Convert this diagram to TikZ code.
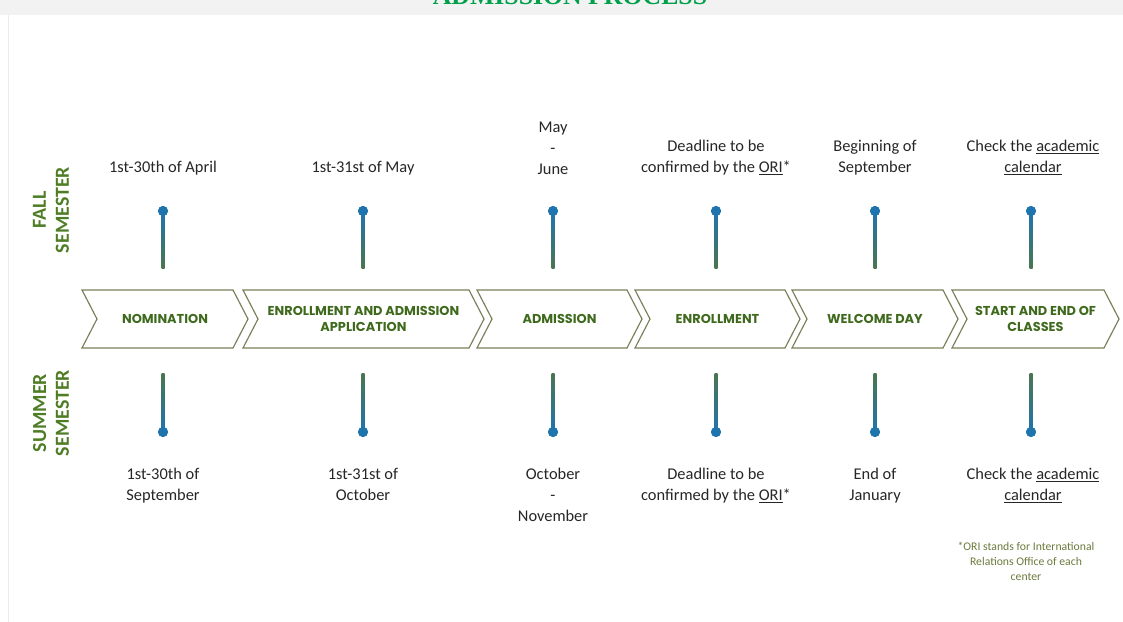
\documentclass[tikz,border=0pt]{standalone}
\usepackage{fontspec}
\setmainfont{Carlito}
\newfontfamily\stagefont{Poppins}
\newfontfamily\titlefont{Liberation Serif}
\usetikzlibrary{calc}

\definecolor{bandgray}{HTML}{F2F2F2}
\definecolor{titlegreen}{HTML}{00A04A}
\definecolor{chevdraw}{HTML}{7B7F58}
\definecolor{chevtext}{HTML}{3F6A1E}
\definecolor{semgreen}{HTML}{4E7D25}
\definecolor{pinblue}{HTML}{1F74AE}
\definecolor{pingreen}{HTML}{4B7550}
\definecolor{notegreen}{HTML}{6B7B3C}

\begin{document}
\begin{tikzpicture}[x=0.03cm,y=-0.03cm,
chev/.style = {draw=chevdraw, line width=1pt, line join=miter},
stage/.style = {font=\stagefont\bfseries\fontsize{11}{13.6}\selectfont, text=chevtext, align=center, inner sep=0pt},
date/.style = {font=\fontsize{14}{18}\selectfont, text=black!85, align=center, inner sep=0pt},
sem/.style = {font=\bfseries\fontsize{17}{19.5}\selectfont, text=semgreen, align=center, rotate=90, inner sep=0pt},
dot/.style = {circle, fill=pinblue, inner sep=0pt, minimum size=0.3cm},
note/.style = {font=\fontsize{10}{12.8}\selectfont, text=notegreen, align=center, inner sep=0pt}]
\useasboundingbox (0,0) rectangle (1123,622);
\fill[bandgray] (0,0) rectangle (1123,15);
\draw[gray!15, line width=0.6pt] (8,15) -- (8,622);
\node[font=\titlefont\bfseries\fontsize{22}{24}\selectfont, text=titlegreen, anchor=base] (title) at (570,5) {ADMISSION PROCESS};

% semester labels
\node[sem] (fall) at (51,210) {FALL\\SEMESTER};
\node[sem] (summer) at (51,413) {SUMMER\\SEMESTER};

% chevrons
\foreach \n/\l/\r/\txt in {nom/82/233/NOMINATION,
    app/243/469/{ENROLLMENT AND ADMISSION\\APPLICATION},
    adm/477/627/ADMISSION,
    enr/635/785/ENROLLMENT,
    wel/792/943/WELCOME DAY,
    cls/952/1104/{START AND END OF\\CLASSES}}{
  \draw[chev] (\l,290) -- (\r,290) -- (\r+15,319) -- (\r,348) -- (\l,348) -- (\l+15,319) -- cycle;
  \node[stage] (\n) at ({(\l+\r+15)/2},319) {\txt};
}

% pins
\foreach \i/\x in {1/163,2/363,3/553,4/716,5/875,6/1031}{
  \coordinate (upend\i) at (\x,268);
  \coordinate (downend\i) at (\x,373);
  \node[dot] (up\i) at (\x,211) {};
  \node[dot] (down\i) at (\x,432) {};
  \shade[top color=pinblue, bottom color=pingreen] ($(up\i.center)+(-1.5,0)$) rectangle ($(upend\i)+(1.5,0)$);
  \shade[top color=pingreen, bottom color=pinblue] ($(downend\i)+(-1.5,0)$) rectangle ($(down\i.center)+(1.5,0)$);
  \node[dot] at (up\i) {};
  \node[dot] at (down\i) {};
}

% fall dates
\node[date, anchor=south] (f1) at (163,175) {1st-30th of April};
\node[date, anchor=south] (f2) at (363,175) {1st-31st of May};
\node[date, anchor=south] (f3) at (553,175) {May\\-\\June};
\node[date, anchor=south] (f4) at (716,175) {Deadline to be\\confirmed by the \underline{ORI}*};
\node[date, anchor=south] (f5) at (875,175) {Beginning of\\September};
\node[date, anchor=south] (f6) at (1033,175) {Check the \underline{academic}\\\underline{calendar}};

% summer dates
\node[date, anchor=north] (s1) at (163,468) {1st-30th of\\September};
\node[date, anchor=north] (s2) at (363,468) {1st-31st of\\October};
\node[date, anchor=north] (s3) at (553,468) {October\\-\\November};
\node[date, anchor=north] (s4) at (716,468) {Deadline to be\\confirmed by the \underline{ORI}*};
\node[date, anchor=north] (s5) at (875,468) {End of\\January};
\node[date, anchor=north] (s6) at (1033,468) {Check the \underline{academic}\\\underline{calendar}};

\node[note] (ori) at (1026,561) {*ORI stands for International\\Relations Office of each\\center};
\end{tikzpicture}
\end{document}
